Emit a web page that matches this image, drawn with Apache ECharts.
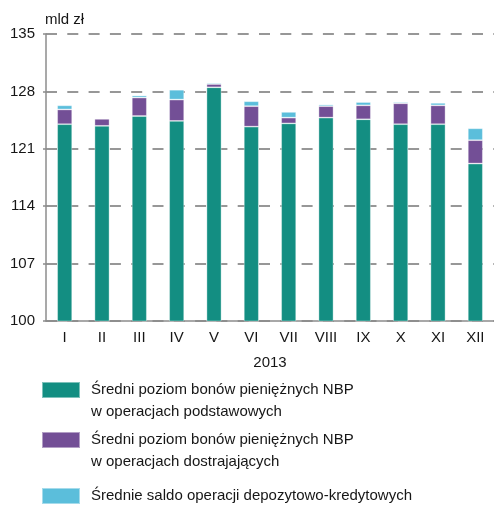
<!DOCTYPE html>
<html>
<head>
<meta charset="utf-8">
<script src="https://cdn.jsdelivr.net/npm/echarts@6/dist/echarts.min.js"></script>
<style>
  html, body { margin: 0; padding: 0; background: #fff; }
  #chart { width: 494px; height: 506px; }
</style>
</head>
<body>
<div id="chart"></div>
<script>
const months = ['I', 'II', 'III', 'IV', 'V', 'VI', 'VII', 'VIII', 'IX', 'X', 'XI', 'XII']
// mld zł
const podstawowe = [124.0, 123.8, 125.0, 124.4, 128.5, 123.7, 124.1, 124.8, 124.6, 124.0, 124.0, 119.2]
const dostrajajace = [1.8, 0.85, 2.25, 2.6, 0.4, 2.5, 0.7, 1.4, 1.7, 2.55, 2.3, 2.85]
const saldo = [0.5, 0.1, 0.25, 1.2, 0.15, 0.6, 0.7, 0.2, 0.4, 0.15, 0.3, 1.45]
const yTicks = [100, 107, 114, 121, 128, 135]

const names = [
  'Średni poziom bonów pieniężnych NBP\nw operacjach podstawowych',
  'Średni poziom bonów pieniężnych NBP\nw operacjach dostrajających',
  'Średnie saldo operacji depozytowo-kredytowych'
]
const colors = ['#138e82', '#734f96', '#5bbedb']

const font = 'Liberation Sans, Arial, sans-serif'
const textColor = '#161616'

const chart = echarts.init(document.getElementById('chart'))

function legendAt (i, top) {
  return {
    data: [names[i]],
    left: 41,
    top: top,
    orient: 'vertical',
    icon: 'rect',
    itemWidth: 38,
    itemHeight: 16,
    itemGap: 0,
    padding: 0,
    selectedMode: false,
    formatter: n => n.split('\n')[0],
    textStyle: { fontFamily: font, fontSize: 15, color: textColor, padding: [6, 0, 0, 6] }
  }
}

const series = [podstawowe, dostrajajace, saldo].map((d, i) => ({
  name: names[i],
  type: 'bar',
  stack: 'total',
  barWidth: 15,
  data: d,
  itemStyle: {
    color: colors[i],
    borderColor: 'rgba(255,255,255,0.45)',
    borderWidth: 0.8
  }
}))

chart.setOption({
  animation: false,
  color: colors,
  grid: { left: 46, top: 34, width: 458, height: 287 },
  legend: [legendAt(0, 381), legendAt(1, 431), legendAt(2, 487)],
  graphic: [
    { type: 'text', left: 45, top: 12, style: { text: 'mld zł', font: '15px ' + font, fill: textColor } },
    { type: 'text', left: 91, top: 404, style: { text: 'w operacjach podstawowych', font: '15px ' + font, fill: textColor } },
    { type: 'text', left: 91, top: 454, style: { text: 'w operacjach dostrajających', font: '15px ' + font, fill: textColor } }
  ],
  xAxis: {
    type: 'category',
    data: months,
    name: '2013',
    nameLocation: 'middle',
    nameGap: 34,
    nameTextStyle: { fontFamily: font, fontSize: 15, color: textColor },
    axisLine: { lineStyle: { color: '#8c8c8c', width: 1.5 } },
    axisTick: { length: 3, lineStyle: { color: '#8c8c8c', width: 1.5 } },
    axisLabel: { fontFamily: font, fontSize: 15, color: textColor, margin: 9 }
  },
  yAxis: {
    type: 'value',
    min: yTicks[0],
    max: yTicks[yTicks.length - 1],
    interval: 7,
    axisLine: { show: true, lineStyle: { color: '#8c8c8c', width: 1.5 } },
    axisTick: { show: true, length: 3, lineStyle: { color: '#8c8c8c', width: 1.5 } },
    axisLabel: { fontFamily: font, fontSize: 15, color: textColor, margin: 11 },
    splitLine: { lineStyle: { color: '#979797', width: 2, type: [11, 10.3] } }
  },
  series: series
})
</script>
</body>
</html>
